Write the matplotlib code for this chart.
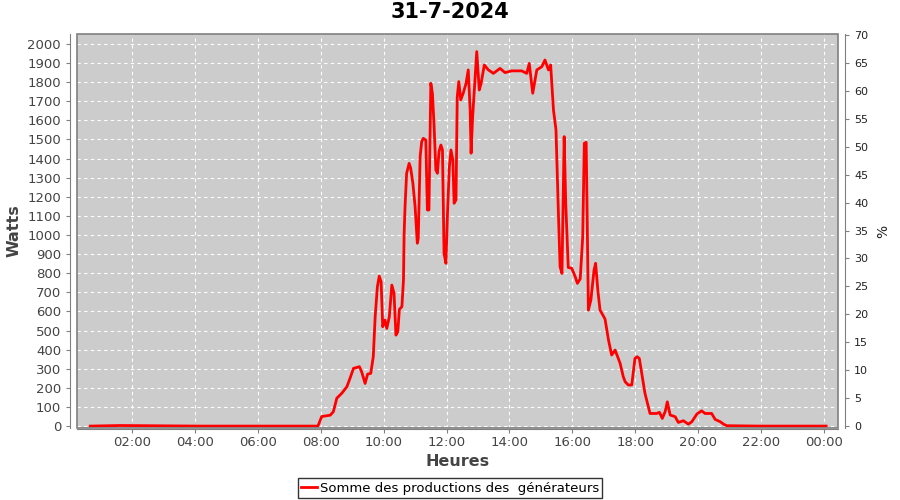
import matplotlib.pyplot as plt
from matplotlib.ticker import FuncFormatter
from matplotlib.patches import Rectangle

title = "31-7-2024"
series_name = "Somme des productions des  générateurs"

# hours of the day (decimal) and production in watts
hours = [0.67, 1.62, 4.16, 7.34, 7.91, 8.03, 8.30, 8.40, 8.51, 8.67, 8.83, 8.93, 9.04,
         9.23, 9.30, 9.41, 9.49, 9.59, 9.67, 9.73, 9.80, 9.86, 9.92, 9.97, 10.04, 10.10,
         10.18, 10.26, 10.33, 10.39, 10.45, 10.50, 10.58, 10.63, 10.65, 10.68, 10.73,
         10.81, 10.86, 10.93, 11.00, 11.07, 11.10, 11.16, 11.21, 11.26, 11.34, 11.39,
         11.44, 11.50, 11.55, 11.60, 11.66, 11.71, 11.76, 11.82, 11.87, 11.92, 11.98,
         12.03, 12.09, 12.14, 12.20, 12.24, 12.30, 12.34, 12.39, 12.45, 12.53, 12.62,
         12.69, 12.75, 12.78, 12.83, 12.96, 13.04, 13.10, 13.20, 13.33, 13.49, 13.70,
         13.86, 14.07, 14.39, 14.55, 14.63, 14.74, 14.87, 15.03, 15.13, 15.24, 15.31,
         15.40, 15.48, 15.56, 15.61, 15.67, 15.74, 15.79, 15.87, 15.98, 16.09, 16.16,
         16.25, 16.33, 16.38, 16.44, 16.51, 16.59, 16.69, 16.74, 16.81, 16.88, 16.94,
         17.04, 17.15, 17.25, 17.36, 17.46, 17.52, 17.62, 17.68, 17.78, 17.89, 17.99,
         18.06, 18.13, 18.31, 18.47, 18.68, 18.77, 18.86, 18.95, 19.02, 19.11, 19.27,
         19.37, 19.53, 19.69, 19.80, 19.96, 20.11, 20.22, 20.43, 20.54, 20.70, 20.82,
         20.91, 21.97, 24.07]
watts = [0, 3, 0, 0, 0, 50, 57, 75, 146, 172, 206, 250, 302,
         311, 284, 223, 272, 276, 363, 572, 729, 785, 755, 520, 555, 511,
         572, 738, 695, 476, 494, 611, 625, 764, 1000, 1148, 1323,
         1375, 1349, 1270, 1148, 957, 982, 1410, 1489, 1506, 1497, 1131,
         1131, 1794, 1742, 1585, 1340, 1323, 1436, 1471, 1445, 904, 852,
         1113, 1358, 1445, 1393, 1166, 1183, 1724, 1803, 1707, 1742, 1794,
         1864, 1654, 1428, 1620, 1960, 1759, 1794, 1890, 1864, 1846, 1872,
         1850, 1859, 1859, 1846, 1898, 1742, 1864, 1881, 1916, 1864, 1890,
         1654, 1550, 1096, 834, 799, 1515, 1166, 830, 826, 782, 747,
         770, 991, 1480, 1485, 607, 660, 817, 852, 712, 607, 590,
         560, 450, 372, 398, 354, 328, 258, 232, 215, 215, 354,
         363, 354, 171, 66, 66, 72, 40, 75, 127, 58, 49,
         19, 28, 10, 23, 63, 80, 66, 66, 35, 23, 9,
         2, 0, 0]

watt_ticks = list(range(0, 2001, 100))
pct_ticks = list(range(0, 71, 5))
hour_ticks = list(range(2, 25, 2))

fig = plt.figure(figsize=(9, 5), dpi=100)
ax = fig.add_axes([0.0856, 0.144, 0.8456, 0.788])
ax.set_facecolor("#cccccc")

ax.plot(hours, watts, color="#ff0000", lw=2, label=series_name)

ax.set_xlim(0.25, 24.45)
ax.set_ylim(-10, 2052)
ax.set_yticks(watt_ticks)
ax.set_xticks(hour_ticks)
ax.xaxis.set_major_formatter(FuncFormatter(lambda v, p: "%02d:00" % (int(round(v)) % 24)))
ax.grid(True, color="white", linestyle=(0, (3, 3)), lw=0.8)
ax.set_axisbelow(True)

label_color = "#444444"
for side in ["top", "right", "left", "bottom"]:
    ax.spines[side].set_visible(False)
ax.add_patch(Rectangle((0, 0), 1, 1, transform=ax.transAxes, fill=False,
                       edgecolor="#808080", lw=1.2, zorder=5, clip_on=False))
ax.spines["left"].set_visible(True)
ax.spines["bottom"].set_visible(True)
ax.spines["left"].set_position(("outward", 5))
ax.spines["bottom"].set_position(("outward", 1))
ax.spines["left"].set_color("#808080")
ax.spines["bottom"].set_color("#808080")
ax.tick_params(axis="both", colors="#808080", labelcolor=label_color, labelsize=9.5,
               length=3, width=0.8)
ax.tick_params(axis="x", pad=2)

ax.set_xlabel("Heures", fontsize=11.5, color=label_color, fontweight="bold", labelpad=3)
ax.set_ylabel("Watts", fontsize=11.5, color=label_color, fontweight="bold", labelpad=4)

ax2 = ax.twinx()
ax2.set_ylim(-0.36, 70.2)
ax2.set_yticks(pct_ticks)
for side in ["top", "left", "bottom"]:
    ax2.spines[side].set_visible(False)
ax2.spines["right"].set_position(("outward", 5))
ax2.spines["right"].set_color("#808080")
ax2.tick_params(axis="y", colors="#808080", labelcolor="#222222", labelsize=8, length=3, width=0.8)
ax2.set_ylabel("%", fontsize=10, color="#222222", labelpad=6)

fig.suptitle(title, fontsize=15, fontweight="bold", y=0.995)

leg = fig.legend(loc="lower center", bbox_to_anchor=(0.5, 0.004), fontsize=9.5,
                 frameon=True, fancybox=False, handlelength=1.2, handletextpad=0.2,
                 borderpad=0.25, borderaxespad=0.0)
leg.get_frame().set_edgecolor("black")
leg.get_frame().set_linewidth(1.0)

fig.savefig("out.png", dpi=100)
